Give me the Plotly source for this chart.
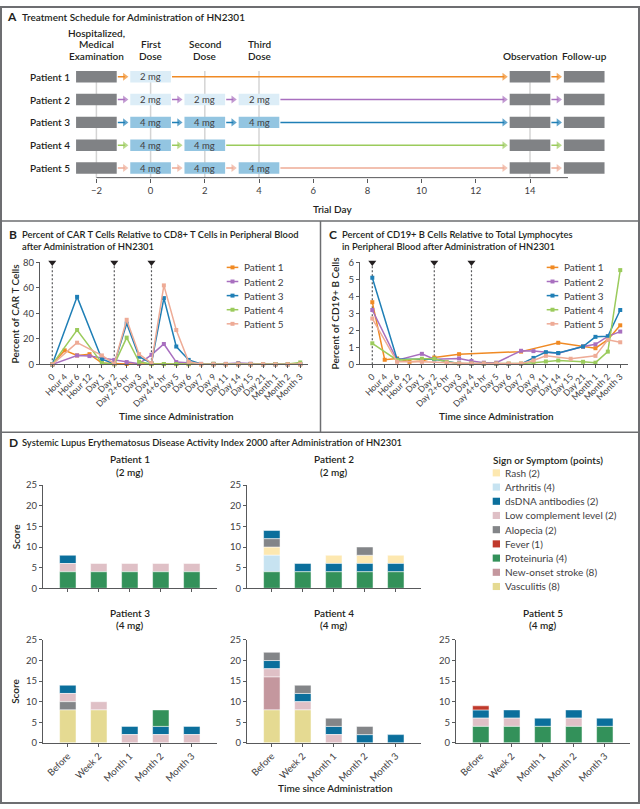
import plotly.graph_objects as go

W, H = 640, 809
def px(x): return x / W
def py(y): return 1 - y / H

FONT = "Lato, 'Open Sans', sans-serif"
INK = "#231f20"
AXC = "#58595b"
TICKC = "#414042"

# ---------------- data ----------------
patients = ["Patient 1", "Patient 2", "Patient 3", "Patient 4", "Patient 5"]
pat_colors = ["#f08a24", "#a86fbf", "#1f7fb6", "#9bcb5c", "#eeab96"]

# Panel A: schedule
dose_days = [0, 2, 4]
doses_mg = [[2], [2, 2, 2], [4, 4, 4], [4, 4], [4, 4, 4]]
exam_day = -2
obs_day = 14
follow_day = 16
phase_labels = ["Hospitalized,<br>Medical<br>Examination", "First<br>Dose", "Second<br>Dose",
                "Third<br>Dose", "Observation", "Follow-up"]
phase_days = [-2, 0, 2, 4, 14, 16]
trial_ticks = [-2, 0, 2, 4, 6, 8, 10, 12, 14]

# Panels B and C
time_labels = ["0", "Hour 4", "Hour 6", "Hour 12", "Day 1", "Day 2", "Day 2+6 hr", "Day 3", "Day 4",
               "Day 4+6 hr", "Day 5", "Day 6", "Day 7", "Day 9", "Day 11", "Day 14", "Day 15", "Day 21",
               "Month 1", "Month 2", "Month 3"]
admin_times = ["0", "Day 2", "Day 4"]

car_p1 = [0, 11, 7, 8, 1, 0.4, 0.3, 0.3, 0.2, 0.2, 0.2, 0.1, 0, 0, 0, 0, 0, 0, 0, 0, 0]
car_p2 = [0, None, 7, 6.5, 5, 3.5, 1.8, 0.5, 7.5, 16, 1.8, 1.2, 0.4, 0.4, 0.4, 1, 0.5, 0.3, 0.2, 0.2, 0.3]
car_p3 = [0, None, 53, None, 4, 0.5, 32, 6, 1, 52, 14, 3.5, 0.3, 0.2, 0.2, 0.2, 0.2, 0.1, 0.1, 0.1, 0.2]
car_p4 = [0, None, 27, None, 1, 0, 21, 2, 0.3, 0.3, 0.3, 0.3, 0.3, 0.5, 0.3, 0.5, 0.3, 0.3, 0.3, 0.3, 1.5]
car_p5 = [0, None, 17, None, 7, 0.5, 35, 8, 1, 62, 27, 2, 0.3, 0.2, 0.2, 0.2, 0.2, 0.2, 0.1, 0.1, 0.2]

cd19_p1 = [3.66, 0.27, 0.35, 0.15, 0.2, 0.4, None, 0.6, None, None, None, None, 0.75, None, None, 1.27,
           None, 1.05, 0.95, 1.45, 2.3]
cd19_p2 = [3.2, None, 0.25, None, 0.62, 0.3, None, 0.35, 0.2, 0.1, 0.1, None, 0.8, 0.78, None, 0.65,
           None, 1.05, 1.18, 1.65, 1.93]
cd19_p3 = [5.1, None, 0.3, None, None, 0.3, None, 0.05, 0.02, 0.02, 0.02, 0.02, 0.02, 0.38, 0.72, 0.67,
           None, 1.05, 1.62, 1.65, 3.2]
cd19_p4 = [1.24, None, 0.25, None, 0.33, 0.33, 0.15, 0.05, 0.05, 0.05, 0.05, 0.05, 0.05, 0.1, 0.17, 0.23,
           None, 0.15, 0.1, 0.75, 5.55]
cd19_p5 = [2.7, None, 0.15, None, 0.15, None, 0.1, 0.05, 0.05, 0.05, 0.05, 0.05, 0.05, 0.23, 0.5, None,
           0.33, None, 0.5, 1.45, 1.3]

# Panel D: SLEDAI-2K
symptom_keys = ["Rash", "Arth", "dsDNA", "LowC", "Alop", "Fever", "Prot", "Stroke", "Vasc"]
symptom_names = ["Rash", "Arthritis", "dsDNA antibodies", "Low complement level", "Alopecia", "Fever",
                 "Proteinuria", "New-onset stroke", "Vasculitis"]
symptom_points = [2, 4, 2, 2, 2, 1, 4, 8, 8]
symptom_colors = ["#fde8b0", "#c7e3f1", "#0b6f9c", "#dfc0c6", "#838588", "#c0392b", "#33915a",
                  "#c4979e", "#e5da92"]
sledai_times = ["Before", "Week 2", "Month 1", "Month 2", "Month 3"]

# symptoms present at each visit, listed bottom to top as stacked in the bars
sledai_p1 = [["Prot", "LowC", "dsDNA"], ["Prot", "LowC"], ["Prot", "LowC"], ["Prot", "LowC"], ["Prot", "LowC"]]
sledai_p2 = [["Prot", "Arth", "Rash", "Alop", "dsDNA"], ["Prot", "dsDNA"], ["Prot", "dsDNA", "Rash"],
             ["Prot", "dsDNA", "Rash", "Alop"], ["Prot", "dsDNA", "Rash"]]
sledai_p3 = [["Vasc", "Alop", "LowC", "dsDNA"], ["Vasc", "LowC"], ["LowC", "dsDNA"],
             ["LowC", "dsDNA", "Prot"], ["LowC", "dsDNA"]]
sledai_p4 = [["Vasc", "Stroke", "LowC", "dsDNA", "Alop"], ["Vasc", "LowC", "dsDNA", "Alop"],
             ["LowC", "dsDNA", "Alop"], ["dsDNA", "Alop"], ["dsDNA"]]
sledai_p5 = [["Prot", "LowC", "dsDNA", "Fever"], ["Prot", "LowC", "dsDNA"], ["Prot", "dsDNA"],
             ["Prot", "LowC", "dsDNA"], ["Prot", "dsDNA"]]

# ---------------- figure ----------------
fig = go.Figure()
shapes = []
ann = []


def text(x, y, s, size=10, weight=400, xanchor="left", yanchor="middle", color=INK, angle=0,
         xref="paper", yref="paper"):
    ann.append(dict(x=x, y=y, xref=xref, yref=yref, text=s, showarrow=False, xanchor=xanchor,
                    yanchor=yanchor, textangle=angle, borderpad=0,
                    font=dict(family=FONT, size=size, color=color, weight=weight)))


def hline(x0, x1, y, color="#6d6e71", width=1.5):
    shapes.append(dict(type="line", xref="paper", yref="paper", x0=px(x0), x1=px(x1), y0=py(y), y1=py(y),
                       line=dict(color=color, width=width)))


def vline(x, y0, y1, color="#6d6e71", width=1.5):
    shapes.append(dict(type="line", xref="paper", yref="paper", x0=px(x), x1=px(x), y0=py(y0), y1=py(y1),
                       line=dict(color=color, width=width)))


# frame and panel separators
shapes.append(dict(type="rect", xref="paper", yref="paper", x0=px(1), x1=px(639), y0=py(1), y1=py(808),
                   line=dict(color="#6d6e71", width=2)))
hline(1, 639, 218)
vline(320.5, 218, 432)
hline(1, 639, 432)

# ---------- Panel A ----------
BOX_W = 1.5
BAR_H = 0.5
A_BOTTOM_ROW = 5.419
for d in [-2, 0, 2, 4, 14]:
    shapes.append(dict(type="line", xref="x", yref="y", x0=d, x1=d, y0=0.75, y1=A_BOTTOM_ROW,
                       layer="below", line=dict(color="#d4d4d4", width=1.5)))
shapes.append(dict(type="line", xref="x", yref="paper", x0=-2, x1=15.4, y0=py(174), y1=py(174),
                   line=dict(color=AXC, width=1)))

gray_y, gray_base = [], []
light_y, light_base, mid_y, mid_base = [], [], [], []
for r, (name, col, mgs) in enumerate(zip(patients, pat_colors, doses_mg), start=1):
    days = dose_days[:len(mgs)]
    centers = [exam_day] + days + [obs_day, follow_day]
    for a, b in zip(centers[:-1], centers[1:]):
        fig.add_trace(go.Scatter(x=[a + BOX_W / 2 + 0.04, b - BOX_W / 2 - 0.2], y=[r, r],
                                 mode="lines+markers", line=dict(color=col, width=1.5),
                                 marker=dict(symbol="triangle-right", size=[0, 7], color=col,
                                             line=dict(width=0)),
                                 xaxis="x", yaxis="y", hoverinfo="skip", cliponaxis=False))
    for d in [exam_day, obs_day, follow_day]:
        gray_y.append(r)
        gray_base.append(d - BOX_W / 2)
    for d, mg in zip(days, mgs):
        if mg == 2:
            light_y.append(r); light_base.append(d - BOX_W / 2)
        else:
            mid_y.append(r); mid_base.append(d - BOX_W / 2)
        text(d, r, f"{mg} mg", size=9.5, color="#414042", xanchor="center", xref="x", yref="y")
    text(px(70.5), py(71.7 + 23.15 * (r - 1)), name, size=10, weight=600, xanchor="right")

for ys, bases, colr in [(gray_y, gray_base, "#808285"), (light_y, light_base, "#dcedf7"),
                        (mid_y, mid_base, "#93c5e1")]:
    fig.add_trace(go.Bar(orientation="h", y=ys, x=[BOX_W] * len(ys), base=bases, width=BAR_H,
                         marker=dict(color=colr, line=dict(width=0)), xaxis="x", yaxis="y",
                         hoverinfo="skip"))

for lbl, d in zip(phase_labels, phase_days):
    lines = lbl.split("<br>")
    for k, ln in enumerate(reversed(lines)):
        text(d, py(50.7 - 11.7 * k), ln, size=10, weight=600, xanchor="center", xref="x")

text(px(6), py(11), "A", size=12, weight=700)
text(px(20.5), py(11), "Treatment Schedule for Administration of HN2301", size=10, weight=600)
text(px(332), py(206), "Trial Day", size=10, weight=600, xanchor="center")

# ---------- Panels B and C ----------
def line_panel(xa, ya, series, ymax, left):
    for t in admin_times:
        fig.add_trace(go.Scatter(x=[t, t], y=[0, ymax], mode="lines", xaxis=xa, yaxis=ya,
                                 line=dict(color="#58595b", width=1.2, dash="2px,2px"),
                                 hoverinfo="skip", cliponaxis=False))
        fig.add_trace(go.Scatter(x=[t], y=[ymax], mode="markers", xaxis=xa, yaxis=ya,
                                 marker=dict(symbol="triangle-down", size=7, color=INK),
                                 hoverinfo="skip", cliponaxis=False))
    for vals, col in zip(series, pat_colors):
        fig.add_trace(go.Scatter(x=time_labels, y=vals, mode="lines+markers", connectgaps=True,
                                 xaxis=xa, yaxis=ya, line=dict(color=col, width=1.5),
                                 marker=dict(symbol="square", size=4, color=col),
                                 hoverinfo="skip", cliponaxis=False))
    # legend
    for k, (name, col) in enumerate(zip(patients, pat_colors)):
        yy = 265 + 14.3 * k
        shapes.append(dict(type="line", xref="paper", yref="paper", x0=px(left + 186.7), x1=px(left + 198.3),
                           y0=py(yy), y1=py(yy), line=dict(color=col, width=1.5)))
        shapes.append(dict(type="rect", xref="paper", yref="paper", x0=px(left + 190.5), x1=px(left + 194.5),
                           y0=py(yy - 2), y1=py(yy + 2), fillcolor=col, line=dict(width=0)))
        text(px(left + 202.7), py(yy), name, size=10, color="#414042")


line_panel("x2", "y2", [car_p1, car_p2, car_p3, car_p4, car_p5], 80, 40)
line_panel("x3", "y3", [cd19_p1, cd19_p2, cd19_p3, cd19_p4, cd19_p5], 6, 360)

TS = 9.4
text(px(8), py(231.7), "B", size=12, weight=700)
text(px(20.5), py(231.7), "Percent of CAR T Cells Relative to CD8+ T Cells in Peripheral Blood", size=TS, weight=600)
text(px(20.5), py(244), "after Administration of HN2301", size=TS, weight=600)
text(px(328), py(231.7), "C", size=12, weight=700)
text(px(340.5), py(231.7), "Percent of CD19+ B Cells Relative to Total Lymphocytes", size=TS, weight=600)
text(px(340.5), py(244), "in Peripheral Blood after Administration of HN2301", size=TS, weight=600)
text(px(15), py(311.7), "Percent of CAR T Cells", size=10, weight=600, xanchor="center", angle=-90)
text(px(335), py(311.7), "Percent of CD19+ B Cells", size=10, weight=600, xanchor="center", angle=-90)
text(px(176), py(416), "Time since Administration", size=10, weight=600, xanchor="center")
text(px(496), py(416), "Time since Administration", size=10, weight=600, xanchor="center")

# ---------- Panel D ----------
sledai_all = [sledai_p1, sledai_p2, sledai_p3, sledai_p4, sledai_p5]
d_pos = [(43, 0), (247, 0), (43, 1), (247, 1), (456, 1)]
D_W = 173.6
row_y = [(590.3, 485.7), (747, 642.7)]
title_y = [(459, 472), (615.7, 628)]
pts = dict(zip(symptom_keys, symptom_points))
cols = dict(zip(symptom_keys, symptom_colors))

for p, (bars, (left, row)) in enumerate(zip(sledai_all, d_pos)):
    ax = p + 4
    xs = {k: [] for k in symptom_keys}
    ys = {k: [] for k in symptom_keys}
    bs = {k: [] for k in symptom_keys}
    for t, stack in zip(sledai_times, bars):
        base = 0
        for key in stack:
            xs[key].append(t); ys[key].append(pts[key]); bs[key].append(base)
            base += pts[key]
    for key in symptom_keys:
        if xs[key]:
            fig.add_trace(go.Bar(x=xs[key], y=ys[key], base=bs[key], width=0.53,
                                 marker=dict(color=cols[key], line=dict(color="white", width=0.5)),
                                 xaxis=f"x{ax}", yaxis=f"y{ax}", hoverinfo="skip"))
    cx = left + D_W / 2
    text(px(cx), py(title_y[row][0]), patients[p], size=10, weight=600, xanchor="center")
    text(px(cx), py(title_y[row][1]), f"({doses_mg[p][0]} mg)", size=10, weight=600, xanchor="center")

text(px(8), py(443), "D", size=12, weight=700)
text(px(20.5), py(443), "Systemic Lupus Erythematosus Disease Activity Index 2000 after Administration of HN2301",
     size=TS, weight=600)
text(px(15.5), py(538), "Score", size=10, weight=600, xanchor="center", angle=-90)
text(px(15.5), py(694.8), "Score", size=10, weight=600, xanchor="center", angle=-90)
text(px(335.5), py(792.7), "Time since Administration", size=10, weight=600, xanchor="center")

text(px(492.3), py(460), "Sign or Symptom (points)", size=10, weight=600)
for k, (name, pt, col) in enumerate(zip(symptom_names, symptom_points, symptom_colors)):
    yy = 473.3 + 14.4 * k
    shapes.append(dict(type="rect", xref="paper", yref="paper", x0=px(492.7), x1=px(500),
                       y0=py(yy + 3.6), y1=py(yy - 3.6), fillcolor=col, line=dict(width=0)))
    text(px(504.3), py(yy), f"{name} ({pt})", size=10, color="#414042")

# ---------------- layout ----------------
tickfont = dict(family=FONT, size=9.5, color=TICKC)
layout = dict(
    width=W, height=H, margin=dict(l=0, r=0, t=0, b=0), paper_bgcolor="white",
    plot_bgcolor="rgba(0,0,0,0)", showlegend=False, barmode="overlay",
    font=dict(family=FONT, color=INK), shapes=shapes, annotations=ann,
    xaxis=dict(domain=[px(40), px(630)], range=[-4.081, 17.69], tickvals=trial_ticks, ticks="outside",
               ticklen=4, tickcolor=AXC, showline=False, showgrid=False, zeroline=False, tickfont=tickfont,
               anchor="y"),
    yaxis=dict(domain=[py(174), py(60)], range=[A_BOTTOM_ROW, 0.4946], visible=False, anchor="x"),
)

def cat_axis(domain, anchor, cats, rng, labels=True, size=9):
    return dict(domain=domain, anchor=anchor, type="category", categoryorder="array", categoryarray=cats,
                range=rng, ticks="outside", ticklen=3, tickcolor=AXC, showline=True, linecolor=AXC,
                linewidth=1, showgrid=False, zeroline=False, tickangle=-45, showticklabels=labels,
                tickfont=dict(family=FONT, size=size, color=TICKC))

def val_axis(domain, anchor, rng, dtick):
    return dict(domain=domain, anchor=anchor, range=rng, dtick=dtick, ticks="outside", ticklen=3,
                tickcolor=AXC, showline=True, linecolor=AXC, linewidth=1, showgrid=False, zeroline=False,
                tickfont=tickfont)

layout["xaxis2"] = cat_axis([px(40), px(308.3)], "y2", time_labels, [-0.992, 20.65], size=8.7)
layout["yaxis2"] = val_axis([py(363.3), py(260)], "x2", [0, 80], 20)
layout["xaxis3"] = cat_axis([px(360), px(628.3)], "y3", time_labels, [-0.992, 20.65], size=8.7)
layout["yaxis3"] = val_axis([py(363.3), py(260)], "x3", [0, 6], 1)
for p, (left, row) in enumerate(d_pos):
    ax = p + 4
    layout[f"xaxis{ax}"] = cat_axis([px(left), px(left + D_W)], f"y{ax}", sledai_times, [-0.8, 4.8],
                                    labels=(row == 1), size=9.5)
    layout[f"yaxis{ax}"] = val_axis([py(row_y[row][0]), py(row_y[row][1])], f"x{ax}", [0, 25], 5)

fig.update_layout(**layout)
fig.write_html("out.html", config={"displayModeBar": False},
               post_script="document.body.style.margin='0';document.body.style.overflow='hidden';")
